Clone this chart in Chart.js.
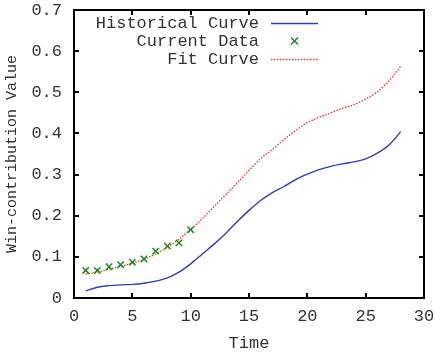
<!DOCTYPE html>
<html>
<head>
<meta charset="utf-8">
<script src="https://cdn.jsdelivr.net/npm/chart.js@4"></script>
<style>
  html, body { margin: 0; padding: 0; background: #fff; }
  #wrap { width: 435px; height: 358px; }
</style>
</head>
<body>
<div id="wrap"><canvas id="c" width="435" height="358"></canvas></div>
<script>
// data
const timeSteps = [1,2,3,4,5,6,7,8,9,10,11,12,13,14,15,16,17,18,19,20,21,22,23,24,25,26,27,28];
const historical = [0.017,0.026,0.030,0.032,0.033,0.036,0.041,0.049,0.063,0.083,0.107,0.131,0.157,0.186,
  0.213,0.237,0.256,0.271,0.288,0.301,0.312,0.320,0.326,0.331,0.338,0.352,0.372,0.404];
const fitCurve = [0.058,0.063,0.070,0.077,0.085,0.094,0.107,0.123,0.143,0.167,0.193,0.222,0.251,0.280,
  0.310,0.339,0.361,0.385,0.407,0.426,0.439,0.450,0.461,0.470,0.484,0.501,0.528,0.563];
const currentTime = [1,2,3,4,5,6,7,8,9,10];
const currentData = [0.067,0.067,0.076,0.081,0.087,0.095,0.114,0.126,0.134,0.166];

const xTickLabels = ["0","5","10","15","20","25","30"];
const yTickLabels = ["0","0.1","0.2","0.3","0.4","0.5","0.6","0.7"];

const BLUE = "#2e40b0";
const GREEN = "#1f8a1f";
const RED = "#f03a3a";
const INK = "#333";
const FRAME = "#000";
const MONO = "'Liberation Mono', 'DejaVu Sans Mono', monospace";

const toPts = (xs, ys) => xs.map((x, i) => ({x, y: ys[i]}));

// gnuplot-ish frame: border on every side, short ticks pointing inwards
const frameGrid = { display: true, drawOnChartArea: false, drawTicks: true, tickLength: -5, color: FRAME, lineWidth: 2 };
const frameBorder = { display: true, color: FRAME, width: 2 };

// key in the top-left corner: text right aligned, sample to its right
const keyPlugin = {
  id: "gnuKey",
  afterDraw(chart) {
    const {ctx} = chart;
    const textRight = 259, s0 = 271, s1 = 318;
    const rows = [23, 41, 59];
    ctx.save();
    ctx.font = "17px " + MONO;
    ctx.fillStyle = INK;
    ctx.textAlign = "right";
    ctx.textBaseline = "middle";
    chart.data.datasets.forEach((ds, i) => {
      const y = rows[i];
      ctx.fillText(ds.label, textRight, y);
      ctx.strokeStyle = ds.borderColor;
      if (ds.showLine === false) {
        const cx = (s0 + s1) / 2, r = 3.5;
        ctx.lineWidth = 1.5;
        ctx.beginPath();
        ctx.moveTo(cx - r, y - r); ctx.lineTo(cx + r, y + r);
        ctx.moveTo(cx - r, y + r); ctx.lineTo(cx + r, y - r);
        ctx.stroke();
      } else {
        ctx.lineWidth = ds.borderWidth;
        ctx.setLineDash(ds.borderDash || []);
        ctx.beginPath();
        ctx.moveTo(s0, y + 0.5); ctx.lineTo(s1, y + 0.5);
        ctx.stroke();
        ctx.setLineDash([]);
      }
    });
    ctx.restore();
  }
};

new Chart(document.getElementById("c"), {
  type: "scatter",
  data: {
    datasets: [
      {
        label: "Historical Curve",
        data: toPts(timeSteps, historical),
        showLine: true,
        borderColor: BLUE,
        borderWidth: 1.4,
        pointRadius: 0,
        cubicInterpolationMode: "monotone"
      },
      {
        label: "Current Data",
        data: toPts(currentTime, currentData),
        showLine: false,
        borderColor: GREEN,
        backgroundColor: GREEN,
        pointStyle: "crossRot",
        pointRadius: 4.5,
        pointBorderWidth: 1.5
      },
      {
        label: "Fit Curve",
        data: toPts(timeSteps, fitCurve),
        showLine: true,
        borderColor: RED,
        borderWidth: 1.4,
        borderDash: [1.5, 1.5],
        pointRadius: 0,
        cubicInterpolationMode: "monotone"
      }
    ]
  },
  options: {
    responsive: false,
    animation: false,
    layout: { padding: { left: 0, right: 11, top: 10, bottom: 0 } },
    plugins: { legend: { display: false }, tooltip: { enabled: false } },
    scales: {
      x: {
        type: "linear",
        position: "bottom",
        min: 0, max: 30,
        afterFit: (s) => { s.height = 60; s.paddingLeft = 0; s.paddingRight = 0; },
        grid: frameGrid,
        border: frameBorder,
        ticks: {
          stepSize: 5,
          padding: 13,
          color: INK,
          font: { family: MONO, size: 17 },
          callback: (v) => xTickLabels[Math.round(v / 5)] ?? ""
        },
        title: {
          display: true,
          text: "Time",
          color: INK,
          font: { family: MONO, size: 17 },
          padding: { top: 0, bottom: 4 }
        }
      },
      y: {
        type: "linear",
        position: "left",
        min: 0, max: 0.7,
        afterFit: (s) => { s.width = 74; s.paddingTop = 0; s.paddingBottom = 0; },
        grid: frameGrid,
        border: frameBorder,
        ticks: {
          stepSize: 0.1,
          padding: 17,
          color: INK,
          font: { family: MONO, size: 17 },
          callback: (v) => yTickLabels[Math.round(v * 10)] ?? ""
        },
        title: {
          display: true,
          text: "Win-contribution Value",
          color: INK,
          font: { family: MONO, size: 15 },
          padding: { top: 3, bottom: 0 }
        }
      },
      x2: {
        type: "linear",
        position: "top",
        min: 0, max: 30,
        afterFit: (s) => { s.height = 0; s.paddingLeft = 0; s.paddingRight = 0; },
        grid: frameGrid,
        border: frameBorder,
        ticks: { stepSize: 5, display: false }
      },
      y2: {
        type: "linear",
        position: "right",
        min: 0, max: 0.7,
        afterFit: (s) => { s.width = 0; s.paddingTop = 0; s.paddingBottom = 0; },
        grid: frameGrid,
        border: frameBorder,
        ticks: { stepSize: 0.1, display: false }
      }
    }
  },
  plugins: [keyPlugin]
});
</script>
</body>
</html>
